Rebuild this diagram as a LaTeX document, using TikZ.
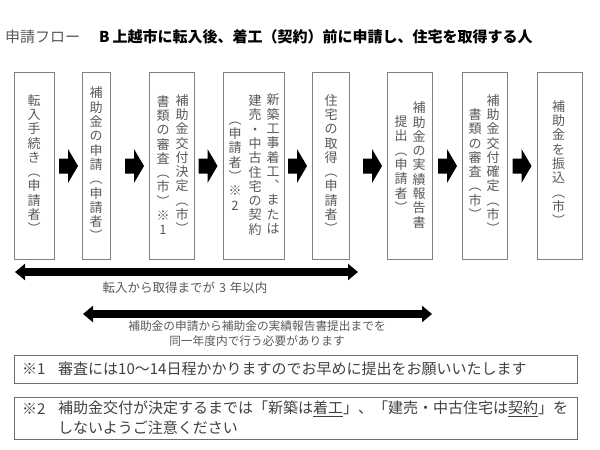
\documentclass[tikz,border=0pt]{standalone}
\usepackage{fontspec}
\setmainfont{Noto Sans CJK JP}
\usetikzlibrary{arrows.meta,calc}
\definecolor{txtgray}{HTML}{595959}
\definecolor{boxline}{HTML}{808080}
\definecolor{notetxt}{HTML}{404040}
\definecolor{noteline}{HTML}{6F6F6F}
\newcommand\flowarrow[1]{\fill[black] (#1) ++(-9.5,-7.5) -- ++(9,0) -- ++(0,-9.5) -- ++(10,17) -- ++(-10,17) -- ++(0,-9.5) -- ++(-9,0) -- cycle;}
\begin{document}
\begin{tikzpicture}[x=1pt,y=-1pt,
  flowbox/.style={draw=boxline, line width=0.9pt, inner sep=0pt, anchor=north west, minimum height=187pt},
  vcol/.style={align=center, inner sep=0pt, text=txtgray, font=\fontsize{13}{14.3}\selectfont},
  dblarrow/.style={line width=8pt, {Triangle[length=10pt,width=16pt]}-{Triangle[length=10pt,width=16pt]}},
  lbl/.style={text=txtgray, inner sep=0pt, font=\fontsize{11.7}{15}\selectfont},
  notebox/.style={draw=noteline, line width=1pt, inner sep=0pt, anchor=north west, minimum width=563pt},
  notetext/.style={text=notetxt, inner sep=0pt, anchor=west, font=\fontsize{15}{18}\selectfont},
  titletext/.style={inner sep=0pt, anchor=west, font=\fontsize{15}{18}\selectfont},
]
\useasboundingbox (0,0) rectangle (600,450);
% title
\node[titletext, text=txtgray] (tt1) at (5,37) {申請フロー};
\node[titletext, text=black] (tt2) at (99,37) {\bfseries B\hspace{3pt}上越市に転入後、着工（契約）前に申請し、住宅を取得する人};
% boxes
\node[flowbox, minimum width=40pt] (b1) at (14,72) {};
\node[flowbox, minimum width=28pt] (b2) at (82,72) {};
\node[flowbox, minimum width=45pt] (b3) at (149,72) {};
\node[flowbox, minimum width=61pt] (b4) at (223,72) {};
\node[flowbox, minimum width=37pt] (b5) at (312,72) {};
\node[flowbox, minimum width=45pt] (b6) at (387,72) {};
\node[flowbox, minimum width=45pt] (b7) at (462,72) {};
\node[flowbox, minimum width=45pt] (b8) at (537,72) {};
% box texts
\node[vcol] (t1) at (34,164) {転\\入\\手\\続\\き\\︵\\申\\請\\者\\︶};
\node[vcol] (t2) at (96,164) {補\\助\\金\\の\\申\\請\\︵\\申\\請\\者\\︶};
\node[vcol] (t3a) at (182,164) {補\\助\\金\\交\\付\\決\\定\\︵\\市\\︶};
\node[vcol] (t3b) at (163,165) {書\\類\\の\\審\\査\\︵\\市\\︶\\※\\1};
\node[vcol] (t4a) at (273,164) {新\\築\\工\\事\\着\\工\\︑\\ま\\た\\は};
\node[vcol] (t4b) at (255,165) {建\\売\\・\\中\\古\\住\\宅\\の\\契\\約};
\node[vcol] (t4c) at (235,166) {︵\\申\\請\\者\\︶\\※\\2};
\node[vcol] (t5) at (331,164) {住\\宅\\の\\取\\得\\︵\\申\\請\\者\\︶};
\node[vcol] (t6a) at (419,165) {補\\助\\金\\の\\実\\績\\報\\告\\書};
\node[vcol] (t6b) at (401,164) {提\\出\\︵\\申\\請\\者\\︶};
\node[vcol] (t7a) at (493,164) {補\\助\\金\\交\\付\\確\\定\\︵\\市\\︶};
\node[vcol] (t7b) at (475,164) {書\\類\\の\\審\\査\\︵\\市\\︶};
\node[vcol] (t8) at (558.5,163) {補\\助\\金\\を\\振\\込\\︵\\市\\︶};
% block arrows
\coordinate (a1) at (68.5,166);
\coordinate (a2) at (134.5,166);
\coordinate (a3) at (208,166);
\coordinate (a4) at (297.5,166);
\coordinate (a5) at (372.5,166);
\coordinate (a6) at (447.5,166);
\coordinate (a7) at (522,166);
\flowarrow{a1}\flowarrow{a2}\flowarrow{a3}\flowarrow{a4}\flowarrow{a5}\flowarrow{a6}\flowarrow{a7}
% double arrows
\coordinate (d1s) at (15,272);
\coordinate (d1e) at (358,272);
\coordinate (d2s) at (83,314);
\coordinate (d2e) at (432,314);
\draw[dblarrow] (d1s) -- (d1e);
\draw[dblarrow] (d2s) -- (d2e);
\node[lbl, font=\fontsize{12.5}{15}\selectfont] (l1) at (185,288) {転入から取得までが\hspace{4pt}3\hspace{4pt}年以内};
\node[lbl, align=center] (l2) at (257,334) {補助金の申請から補助金の実績報告書提出までを\\同一年度内で行う必要があります};
% notes
\node[notebox, minimum height=28pt] (n1) at (14,355) {};
\node[notetext] (n1a) at (22,369) {※1};
\node[notetext] (n1b) at (58,369) {審査には10～14日程かかりますのでお早めに提出をお願いいたします};
\node[notebox, minimum height=42pt] (n2) at (14,397) {};
\node[notetext] (n2a) at (22,409) {※2};
\node[notetext] (n2b) at (58,409) {補助金交付が決定するまでは「新築は\underline{着工}」、「建売・中古住宅は\underline{契約}」を};
\node[notetext] (n2c) at (58,428) {しないようご注意ください};
\end{tikzpicture}
\end{document}
